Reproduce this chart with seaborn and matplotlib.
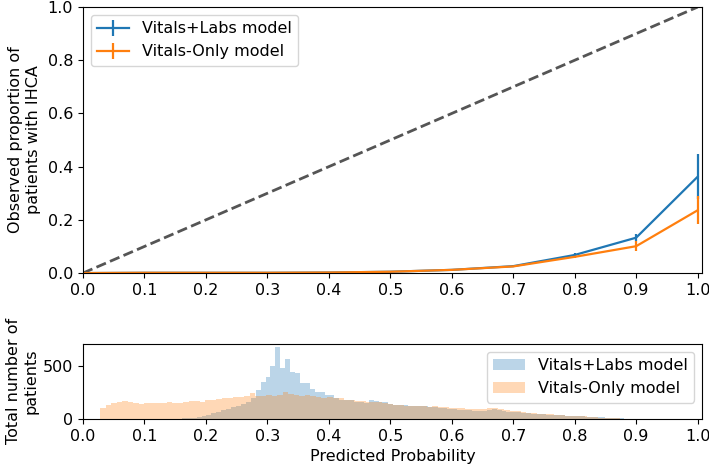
import numpy as np
import pandas as pd
import matplotlib
matplotlib.use("Agg")
import matplotlib.pyplot as plt
import seaborn as sns

# calibration curve (top panel)
prob_bins = [0.0, 0.1, 0.2, 0.3, 0.4, 0.5, 0.6, 0.7, 0.8, 0.9, 1.0]
labs_observed = [0.000, 0.001, 0.001, 0.001, 0.002, 0.005, 0.012, 0.026, 0.068, 0.133, 0.362]
labs_err = [0.000, 0.000, 0.000, 0.000, 0.001, 0.001, 0.002, 0.003, 0.006, 0.014, 0.085]
vitals_observed = [0.000, 0.001, 0.001, 0.001, 0.002, 0.005, 0.012, 0.025, 0.061, 0.101, 0.236]
vitals_err = [0.000, 0.000, 0.000, 0.000, 0.001, 0.001, 0.002, 0.003, 0.006, 0.018, 0.053]

# predicted-probability histograms (bottom panel)
labs_bin_start, labs_bin_width = 0.145, 0.008
labs_counts = [2, 4, 6, 9, 14, 20, 28, 40, 55, 68, 82, 98, 112, 128, 145, 165, 200,
               275, 355, 403, 505, 680, 483, 570, 442, 440, 340, 338, 282, 260, 255,
               228, 225, 195, 185, 180, 178, 165, 160, 155, 180, 175, 160, 158, 140,
               135, 132, 130, 125, 128, 122, 120, 115, 112, 108, 100, 95, 92, 90, 88,
               85, 80, 78, 75, 90, 95, 85, 75, 70, 68, 62, 58, 55, 52, 50, 46, 42, 40,
               38, 35, 32, 30, 28, 25, 22, 20, 17, 15, 12, 10, 8, 6, 4, 3, 2, 1]
vitals_bin_start, vitals_bin_width = 0.028, 0.009
vitals_counts = [105, 135, 150, 162, 168, 160, 148, 140, 150, 155, 152, 148, 160, 150,
                 155, 165, 168, 172, 160, 185, 182, 190, 195, 200, 205, 212, 218, 245,
                 222, 220, 228, 215, 225, 255, 235, 228, 222, 230, 215, 210, 200, 205,
                 198, 195, 185, 180, 170, 168, 162, 158, 165, 150, 142, 135, 130, 128,
                 125, 128, 120, 118, 120, 112, 110, 105, 102, 100, 98, 95, 92, 95, 102,
                 108, 95, 85, 78, 72, 66, 60, 56, 52, 48, 45, 40, 36, 33, 30, 28, 24,
                 20, 17, 14, 11, 8, 6, 4, 3, 1]

labels = ["Vitals+Labs model", "Vitals-Only model"]
colors = ["#1f77b4", "#ff7f0e"]


def hist_frame(start, width, counts):
    edges = start + width * np.arange(len(counts) + 1)
    centers = (edges[:-1] + edges[1:]) / 2
    return pd.DataFrame({"prob": centers, "count": counts}), edges.tolist()


plt.rcParams["font.size"] = 11.5
plt.rcParams["font.family"] = ["DejaVu Sans"]

fig = plt.figure(figsize=(7.09, 4.70), dpi=100)
ax_cal = fig.add_axes([0.117, 0.419, 0.873, 0.566])
ax_hist = fig.add_axes([0.117, 0.1085, 0.873, 0.16])

# top: calibration
ax_cal.plot([0, 1], [0, 1], ls="--", color="#555555", lw=2)
ax_cal.errorbar(prob_bins, labs_observed, yerr=labs_err, color=colors[0], lw=1.6,
                label=labels[0])
ax_cal.errorbar(prob_bins, vitals_observed, yerr=vitals_err, color=colors[1], lw=1.6,
                label=labels[1])
ax_cal.set_xlim(0, 1.007)
ax_cal.set_ylim(0, 1.0)
ax_cal.set_xticks(np.arange(0, 1.01, 0.1))
ax_cal.set_ylabel("Observed proportion of\npatients with IHCA", labelpad=5)
ax_cal.legend(loc="upper left")

# bottom: histograms
labs_df, labs_edges = hist_frame(labs_bin_start, labs_bin_width, labs_counts)
vitals_df, vitals_edges = hist_frame(vitals_bin_start, vitals_bin_width, vitals_counts)
sns.histplot(data=labs_df, x="prob", weights="count", bins=labs_edges, ax=ax_hist,
             color=colors[0], alpha=0.3, linewidth=0, label=labels[0])
sns.histplot(data=vitals_df, x="prob", weights="count", bins=vitals_edges, ax=ax_hist,
             color=colors[1], alpha=0.3, linewidth=0, label=labels[1])
ax_hist.set_xlim(0, 1.007)
ax_hist.set_xticks(np.arange(0, 1.01, 0.1))
ax_hist.set_xlabel("Predicted Probability")
ax_hist.set_ylabel("Total number of\npatients", labelpad=3)
ax_hist.legend(loc="upper right")

fig.savefig("out.png", dpi=100)
